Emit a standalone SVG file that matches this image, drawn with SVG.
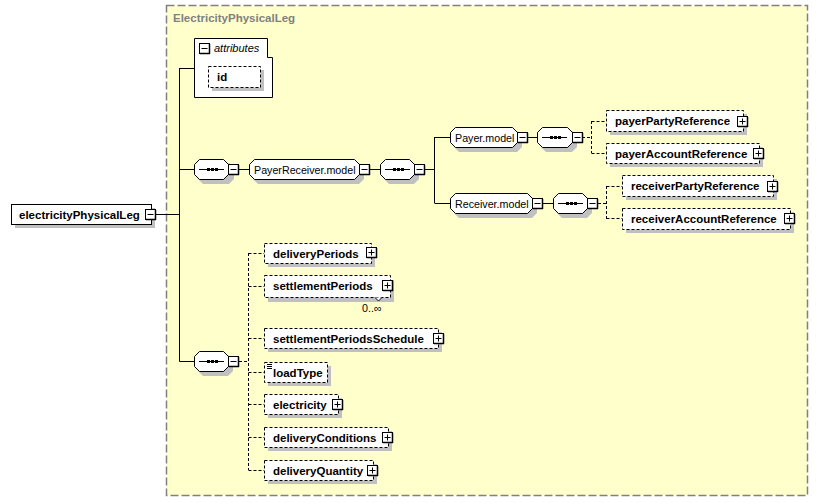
<svg xmlns="http://www.w3.org/2000/svg" xmlns:xlink="http://www.w3.org/1999/xlink" width="818" height="502" viewBox="0 0 818 502">
<style>
text{font-family:"Liberation Sans",Arial,sans-serif;font-size:10.7px;fill:#000}
.b{font-weight:bold;font-size:11.5px}
.i{font-style:italic;font-size:11px}
.t{font-weight:bold;font-size:11.5px;fill:#808080}
.box{fill:#fff;stroke:#000;stroke-width:1}
.dbox{fill:#fff;stroke:#000;stroke-width:1;stroke-dasharray:3,2}
.sh{fill:#c0c0c0;stroke:none}
.ln{fill:none;stroke:#000;stroke-width:1}
.dl{fill:none;stroke:#000;stroke-width:1;stroke-dasharray:3,2}
</style>
<defs>
<g id="minus"><rect x="0.5" y="0.5" width="10" height="10" fill="#fff" stroke="#000"/><path d="M1,10.5H11M10.5,1V11" stroke="#000" stroke-width="1.5"/><path d="M2.5,5.5H8.5" stroke="#000"/></g>
<g id="plus"><rect x="0.5" y="0.5" width="10" height="10" fill="#fff" stroke="#000"/><path d="M1,10.5H11M10.5,1V11" stroke="#000" stroke-width="1.5"/><path d="M2.5,5.5H8.5M5.5,2.5V8.5" stroke="#000"/></g>
<g id="seqicon"><path d="M0,0.5H25" stroke="#000"/><rect x="8" y="-1" width="3" height="3" fill="#000"/><rect x="12" y="-1" width="3" height="3" fill="#000"/><rect x="16" y="-1" width="3" height="3" fill="#000"/></g>
</defs>
<rect x="0" y="0" width="818" height="502" fill="#fff"/>
<g id="frame">
<rect x="166.5" y="5.5" width="641" height="490" fill="#ffffcc" stroke="#808080" stroke-width="1.5" stroke-dasharray="8,3"/>
<text class="t" x="173" y="22">ElectricityPhysicalLeg</text>
</g>
<g id="connectors">
<path class="ln" d="M156,214.5H179.5M179.5,68V361.5M179.5,68.5H194M179.5,169.5H194M239,169.5H249M370,169.5H380M425,169.5H434.5M434.5,137V203M434.5,137.5H450M434.5,203.5H450M528,137.5H537M543,203.5H553M179.5,361.5H194"/>
<path class="dl" d="M582,137.5H591.5M591.5,121V153M591.5,121.5H606M591.5,153.5H606M598,203.5H606.5M606.5,186V219M606.5,186.5H622M606.5,218.5H622M239,361.5H248.5M248.5,253V470M248.5,253.5H264M248.5,286.5H264M248.5,338.5H264M248.5,372.5H264M248.5,404.5H264M248.5,437.5H264M248.5,470.5H264"/>
</g>
<g id="electricityPhysicalLeg">
<rect class="sh" x="15" y="208" width="140" height="20"/>
<rect class="box" x="11.5" y="204.5" width="140" height="20"/>
<text class="b" x="19" y="219">electricityPhysicalLeg</text>
<use xlink:href="#minus" x="145" y="209"/>
</g>
<g id="attributes">
<path class="box" d="M194.5,38.5H267.5V57.5H272.5V97.5H194.5Z"/>
<use xlink:href="#minus" x="199" y="43"/>
<text class="i" x="214" y="52">attributes</text>
<rect class="sh" x="212" y="70" width="52" height="21"/>
<rect class="dbox" x="208.5" y="66.5" width="52" height="21"/>
<text class="b" x="217" y="81">id</text>
</g>
<g id="seq1">
<path class="sh" d="M203,163H229L234,168V179L229,184H203L198,179V168Z"/>
<path class="box" d="M199.5,159.5H223.5L228.5,164.5V174.5L223.5,179.5H199.5L194.5,174.5V164.5Z"/>
<use xlink:href="#seqicon" x="199" y="169"/>
<use xlink:href="#minus" x="228" y="164"/>
</g>
<g id="PayerReceiver.model">
<path class="sh" d="M258,163H359L364,168V179L359,184H258L253,179V168Z"/>
<path class="box" d="M254.5,159.5H354.5L359.5,164.5V174.5L354.5,179.5H254.5L249.5,174.5V164.5Z"/>
<text x="254" y="174">PayerReceiver.model</text>
<use xlink:href="#minus" x="359" y="164"/>
</g>
<g id="seq2">
<path class="sh" d="M389,163H414L419,168V179L414,184H389L384,179V168Z"/>
<path class="box" d="M385.5,159.5H409.5L414.5,164.5V174.5L409.5,179.5H385.5L380.5,174.5V164.5Z"/>
<use xlink:href="#seqicon" x="385" y="169"/>
<use xlink:href="#minus" x="414" y="164"/>
</g>
<g id="Payer.model">
<path class="sh" d="M459,131H517L522,136V147L517,152H459L454,147V136Z"/>
<path class="box" d="M455.5,127.5H512.5L517.5,132.5V142.5L512.5,147.5H455.5L450.5,142.5V132.5Z"/>
<text x="455" y="142">Payer.model</text>
<use xlink:href="#minus" x="517" y="132"/>
</g>
<g id="seq3">
<path class="sh" d="M546,131H572L577,136V147L572,152H546L541,147V136Z"/>
<path class="box" d="M542.5,127.5H567.5L572.5,132.5V142.5L567.5,147.5H542.5L537.5,142.5V132.5Z"/>
<use xlink:href="#seqicon" x="542" y="137"/>
<use xlink:href="#minus" x="572" y="132"/>
</g>
<g id="Receiver.model">
<path class="sh" d="M459,197H532L537,202V213L532,218H459L454,213V202Z"/>
<path class="box" d="M455.5,193.5H527.5L532.5,198.5V208.5L527.5,213.5H455.5L450.5,208.5V198.5Z"/>
<text x="455" y="208">Receiver.model</text>
<use xlink:href="#minus" x="532" y="198"/>
</g>
<g id="seq4">
<path class="sh" d="M562,197H587L592,202V213L587,218H562L557,213V202Z"/>
<path class="box" d="M558.5,193.5H582.5L587.5,198.5V208.5L582.5,213.5H558.5L553.5,208.5V198.5Z"/>
<use xlink:href="#seqicon" x="558" y="203"/>
<use xlink:href="#minus" x="587" y="198"/>
</g>
<g id="payerPartyReference">
<rect class="sh" x="610" y="114" width="137" height="21"/>
<rect class="dbox" x="606.5" y="110.5" width="137" height="21"/>
<text class="b" x="615" y="125">payerPartyReference</text>
<use xlink:href="#plus" x="737" y="116"/>
</g>
<g id="payerAccountReference">
<rect class="sh" x="610" y="147" width="153" height="20"/>
<rect class="dbox" x="606.5" y="143.5" width="153" height="20"/>
<text class="b" x="615" y="158">payerAccountReference</text>
<use xlink:href="#plus" x="753" y="148"/>
</g>
<g id="receiverPartyReference">
<rect class="sh" x="626" y="179" width="151" height="21"/>
<rect class="dbox" x="622.5" y="175.5" width="151" height="21"/>
<text class="b" x="631" y="190">receiverPartyReference</text>
<use xlink:href="#plus" x="767" y="181"/>
</g>
<g id="receiverAccountReference">
<rect class="sh" x="626" y="212" width="168" height="21"/>
<rect class="dbox" x="622.5" y="208.5" width="168" height="21"/>
<text class="b" x="631" y="223">receiverAccountReference</text>
<use xlink:href="#plus" x="784" y="213"/>
</g>
<g id="seq5">
<path class="sh" d="M203,355H228L233,360V371L228,376H203L198,371V360Z"/>
<path class="box" d="M199.5,351.5H223.5L228.5,356.5V366.5L223.5,371.5H199.5L194.5,366.5V356.5Z"/>
<use xlink:href="#seqicon" x="199" y="361"/>
<use xlink:href="#minus" x="228" y="356"/>
</g>
<g id="deliveryPeriods">
<rect class="sh" x="268" y="247" width="107" height="20"/>
<rect class="dbox" x="264.5" y="243.5" width="107" height="20"/>
<text class="b" x="273" y="258">deliveryPeriods</text>
<use xlink:href="#plus" x="366" y="247"/>
</g>
<g id="settlementPeriods">
<rect class="sh" x="268" y="280" width="126" height="22"/>
<rect class="dbox" x="264.5" y="275.5" width="126" height="22"/>
<path d="M375,297.5L378.5,301L382,297.5" fill="#fff" stroke="#000"/>
<text class="b" x="273" y="290">settlementPeriods</text>
<use xlink:href="#plus" x="382" y="280"/>
<text x="362" y="312">0..∞</text>
</g>
<g id="settlementPeriodsSchedule">
<rect class="sh" x="268" y="332" width="174" height="20"/>
<rect class="dbox" x="264.5" y="328.5" width="174" height="20"/>
<text class="b" x="273" y="343">settlementPeriodsSchedule</text>
<use xlink:href="#plus" x="433" y="333"/>
</g>
<g id="loadType">
<rect class="sh" x="268" y="366" width="63" height="20"/>
<rect class="dbox" x="264.5" y="362.5" width="63" height="20"/>
<path d="M267,364.5H272M267,366.5H272M267,368.5H272" stroke="#000"/>
<text class="b" x="273" y="377">loadType</text>
</g>
<g id="electricity">
<rect class="sh" x="268" y="398" width="74" height="20"/>
<rect class="dbox" x="264.5" y="394.5" width="74" height="20"/>
<text class="b" x="273" y="409">electricity</text>
<use xlink:href="#plus" x="332" y="399"/>
</g>
<g id="deliveryConditions">
<rect class="sh" x="268" y="431" width="124" height="20"/>
<rect class="dbox" x="264.5" y="427.5" width="124" height="20"/>
<text class="b" x="273" y="442">deliveryConditions</text>
<use xlink:href="#plus" x="382" y="432"/>
</g>
<g id="deliveryQuantity">
<rect class="sh" x="268" y="464" width="109" height="20"/>
<rect class="dbox" x="264.5" y="460.5" width="109" height="20"/>
<text class="b" x="273" y="475">deliveryQuantity</text>
<use xlink:href="#plus" x="367" y="465"/>
</g>
</svg>
